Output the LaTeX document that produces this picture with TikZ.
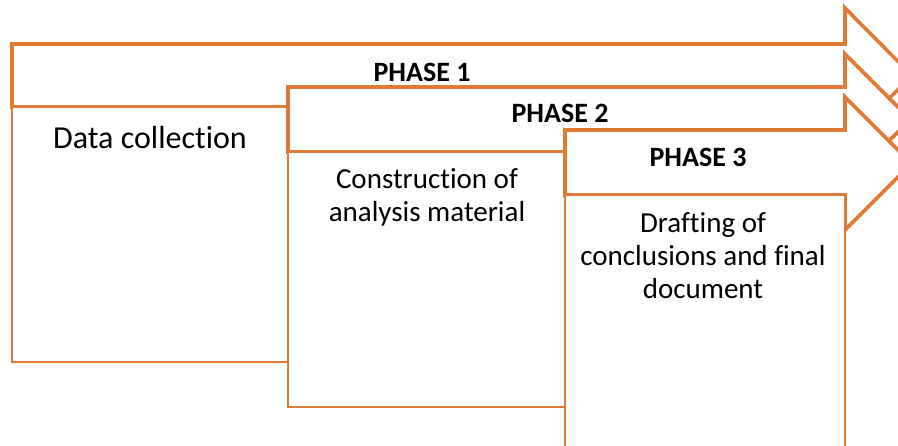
\documentclass[tikz,border=0pt]{standalone}
\usepackage{fontspec}
\setmainfont[Ligatures={NoCommon}]{Carlito}
\definecolor{phaseorange}{HTML}{E07A35}
\tikzset{
  arrowshape/.style={draw=phaseorange, line width=3.6pt, fill=white, line join=miter},
  bodybox/.style={draw=phaseorange, line width=2pt, fill=white},
  phasetxt/.style={font=\fontsize{28}{32}\selectfont\bfseries, inner sep=0pt},
  bodytxt/.style={font=\fontsize{29}{33}\selectfont, align=center, inner sep=0pt},
}
\begin{document}
\begin{tikzpicture}[x=1pt,y=-1pt]
\useasboundingbox (0,0) rectangle (898,446);
\clip (0,0) rectangle (898,446);
% Phase 1
\draw[arrowshape] (12,44) -- (845,44) -- (845,8) -- (912,75.5) -- (845,143) -- (845,107) -- (12,107) -- cycle;
\draw[bodybox] (12,107) rectangle (288,362);
\node[phasetxt] (p1) at (422,72) {PHASE 1};
\node[bodytxt, font=\fontsize{32}{36}\selectfont] (t1) at (150,138) {Data collection};
% Phase 2
\draw[arrowshape] (288,87) -- (845,87) -- (845,54) -- (910.5,119.5) -- (845,185) -- (845,152) -- (288,152) -- cycle;
\draw[bodybox] (288,152) rectangle (565,407);
\node[phasetxt] (p2) at (560,113) {PHASE 2};
\node[bodytxt] (t2) at (427,197) {Construction of\\analysis material};
% Phase 3
\draw[arrowshape] (565,130) -- (845,130) -- (845,97) -- (911.5,163.5) -- (845,230) -- (845,195) -- (565,195) -- cycle;
\draw[bodybox] (565,195) rectangle (845,447);
\node[phasetxt] (p3) at (698,157) {PHASE 3};
\node[bodytxt] (t3) at (703,256) {Drafting of\\conclusions and final\\document};
\end{tikzpicture}
\end{document}
